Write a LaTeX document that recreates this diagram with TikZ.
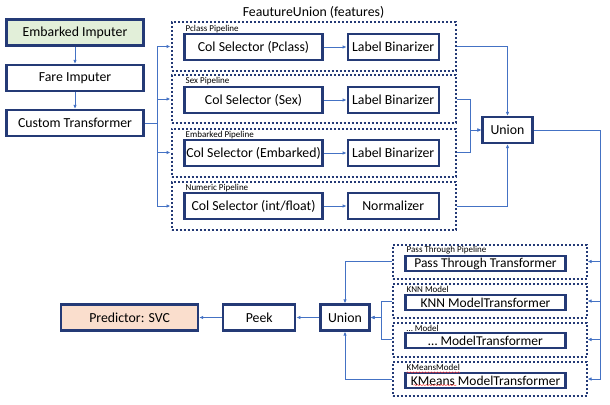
\documentclass[tikz,border=0pt]{standalone}
\usepackage{fontspec}
\setmainfont{Carlito}
\usepackage{tikz}
\usetikzlibrary{arrows.meta,calc,positioning,decorations.pathmorphing}
\definecolor{navy}{RGB}{36,58,118}
\definecolor{wireblue}{RGB}{68,114,196}
\definecolor{greenfill}{RGB}{226,239,217}
\definecolor{peachfill}{RGB}{250,222,205}
\tikzset{
node distance=23pt, % gap between the boxes of one row
>={Latex[length=4pt,width=3.5pt]},
box/.style={draw=navy, line width=2.2pt, minimum height=26pt, inner sep=0pt, font=\fontsize{13.8}{15}\selectfont},
slim/.style={box, minimum height=15pt, font=\fontsize{13.5}{14}\selectfont},
pipe/.style={draw=navy, line width=2pt, dotted, inner sep=0pt},
tag/.style={font=\fontsize{9}{10}\selectfont, inner sep=0pt, anchor=west},
wire/.style={draw=wireblue, line width=0.9pt},
}

\begin{document}
\begin{tikzpicture}[x=1pt,y=-1pt]
   \useasboundingbox (0,0) rectangle (610,404);
   % preprocessing chain
   \node[box,fill=greenfill,minimum width=137pt] (embimp) at (75,32.5) {Embarked Imputer};
   \node[box,minimum width=137pt] (fareimp) at (75,78) {Fare Imputer};
   \node[box,minimum width=137pt] (custom) at (75,123) {Custom Transformer};
   % feature union
   \node[font=\fontsize{13.8}{15}\selectfont] (fu) at (313.5,12) {FeautureUnion (features)};
   \node[pipe,minimum width=284pt,minimum height=48pt] (p_pclass) at (313.5,46.5) {};
   \node[pipe,minimum width=284pt,minimum height=48pt] (p_sex) at (313.5,99) {};
   \node[pipe,minimum width=284pt,minimum height=48pt] (p_emb) at (313.5,152.5) {};
   \node[pipe,minimum width=284pt,minimum height=48pt] (p_num) at (313.5,206) {};
   \node[tag] (t_pclass) at ($(p_pclass.north west)+(15,7.5)$) {Pclass Pipeline};
   \node[tag] (t_sex) at ($(p_sex.north west)+(15,7.5)$) {Sex Pipeline};
   \node[tag] (t_emb) at ($(p_emb.north west)+(15,7.5)$) {Embarked Pipeline};
   \node[tag] (t_num) at ($(p_num.north west)+(15,7.5)$) {Numeric Pipeline};
   \node[box,minimum width=138pt] (c_pclass) at (253.5,47) {Col Selector (Pclass)};
   \node[box,minimum width=91pt] (b_pclass) [right=of c_pclass] {Label Binarizer};
   \node[box,minimum width=138pt] (c_sex) at (253.5,100) {Col Selector (Sex)};
   \node[box,minimum width=91pt] (b_sex) [right=of c_sex] {Label Binarizer};
   \node[box,minimum width=138pt] (c_emb) at (253.5,153) {Col Selector (Embarked)};
   \node[box,minimum width=91pt] (b_emb) [right=of c_emb] {Label Binarizer};
   \node[box,minimum width=138pt] (c_num) at (253.5,206) {Col Selector (int/float)};
   \node[box,minimum width=91pt] (b_num) [right=of c_num] {Normalizer};
   \node[box,minimum width=50pt] (u_feat) at (507.5,130) {Union};
   % model union
   \node[pipe,minimum width=194pt,minimum height=34pt] (m_pass) at (489.5,261.5) {};
   \node[pipe,minimum width=194pt,minimum height=34pt] (m_knn) at (489.5,301) {};
   \node[pipe,minimum width=194pt,minimum height=34pt] (m_dots) at (489.5,339.5) {};
   \node[pipe,minimum width=194pt,minimum height=34pt] (m_kmeans) at (489.5,379) {};
   \node[tag] (t_pass) at ($(m_pass.north west)+(15,6.5)$) {Pass Through Pipeline};
   \node[tag] (t_knn) at ($(m_knn.north west)+(15,6.5)$) {KNN Model};
   \node[tag] (t_dots) at ($(m_dots.north west)+(15,6.5)$) {\dots\ Model};
   \node[tag] (t_kmeans) at ($(m_kmeans.north west)+(15,6.5)$) {KMeansModel};
   \node[slim,minimum width=160pt] (k_pass) at (485.5,263.5) {Pass Through Transformer};
   \node[slim,minimum width=160pt] (k_knn) at (485.5,302.5) {KNN ModelTransformer};
   \node[slim,minimum width=160pt] (k_dots) at (485.5,340.5) {\dots\ ModelTransformer};
   \node[slim,minimum width=160pt] (k_kmeans) at (485.5,380.5) {KMeans ModelTransformer};
   \node[box,minimum width=49pt] (u_model) at (345,317.5) {Union};
   \node[box,minimum width=72pt] (peek) [left=of u_model] {Peek};
   \node[box,fill=peachfill,minimum width=137pt] (svc) [left=of peek] {Predictor: SVC};
   % connectors
   \draw[wire,->] (embimp) -- (fareimp);
   \draw[wire,->] (fareimp) -- (custom);
   \draw[wire] (custom.east) -- ++(13,0) coordinate (split);
   \draw[wire,->] (split) |- (p_pclass.west);
   \draw[wire,->] (split) |- (p_sex.west);
   \draw[wire,->] (split) |- (p_emb.west);
   \draw[wire,->] (split) |- (p_num.west);
   \draw[wire,->] (c_pclass) -- (b_pclass);
   \draw[wire,->] (c_sex) -- (b_sex);
   \draw[wire,->] (c_emb) -- (b_emb);
   \draw[wire,->] (c_num) -- (b_num);
   \draw[wire,->] (p_pclass.east) -| (u_feat.north);
   \draw[wire,->] (p_sex.east) -- ++(14,0) |- (u_feat.west);
   \draw[wire,->] (p_emb.east) -- ++(14,0) |- (u_feat.west);
   \draw[wire,->] (p_num.east) -| (u_feat.south);
   \draw[wire] (u_feat.east) -- ++(67,0) coordinate (fan);
   \draw[wire,->] (fan) |- (m_pass.east);
   \draw[wire,->] (fan) |- (m_knn.east);
   \draw[wire,->] (fan) |- (m_dots.east);
   \draw[wire,->] (fan) |- (m_kmeans.east);
   \draw[wire,->] (m_pass.west) -| (u_model.north);
   \draw[wire,->] (m_knn.west) -- ++(-10,0) |- (u_model.east);
   \draw[wire,->] (m_dots.west) -- ++(-10,0) |- (u_model.east);
   \draw[wire,->] (m_kmeans.west) -| (u_model.south);
   \draw[wire,->] (u_model) -- (peek);
   \draw[wire,->] (peek) -- (svc);
   % spell-check marks
   \draw[red!80,line width=0.4pt,decorate,decoration={snake,amplitude=0.6pt,segment length=3pt}]
      ($(t_kmeans.south west)+(0,1.5)$) -- ($(t_kmeans.south east)+(0,1.5)$);
   \draw[red!80,line width=0.4pt,decorate,decoration={snake,amplitude=0.6pt,segment length=3pt}]
      ($(k_kmeans.south west)+(9,-4)$) -- ++(43,0);
\end{tikzpicture}
\end{document}
